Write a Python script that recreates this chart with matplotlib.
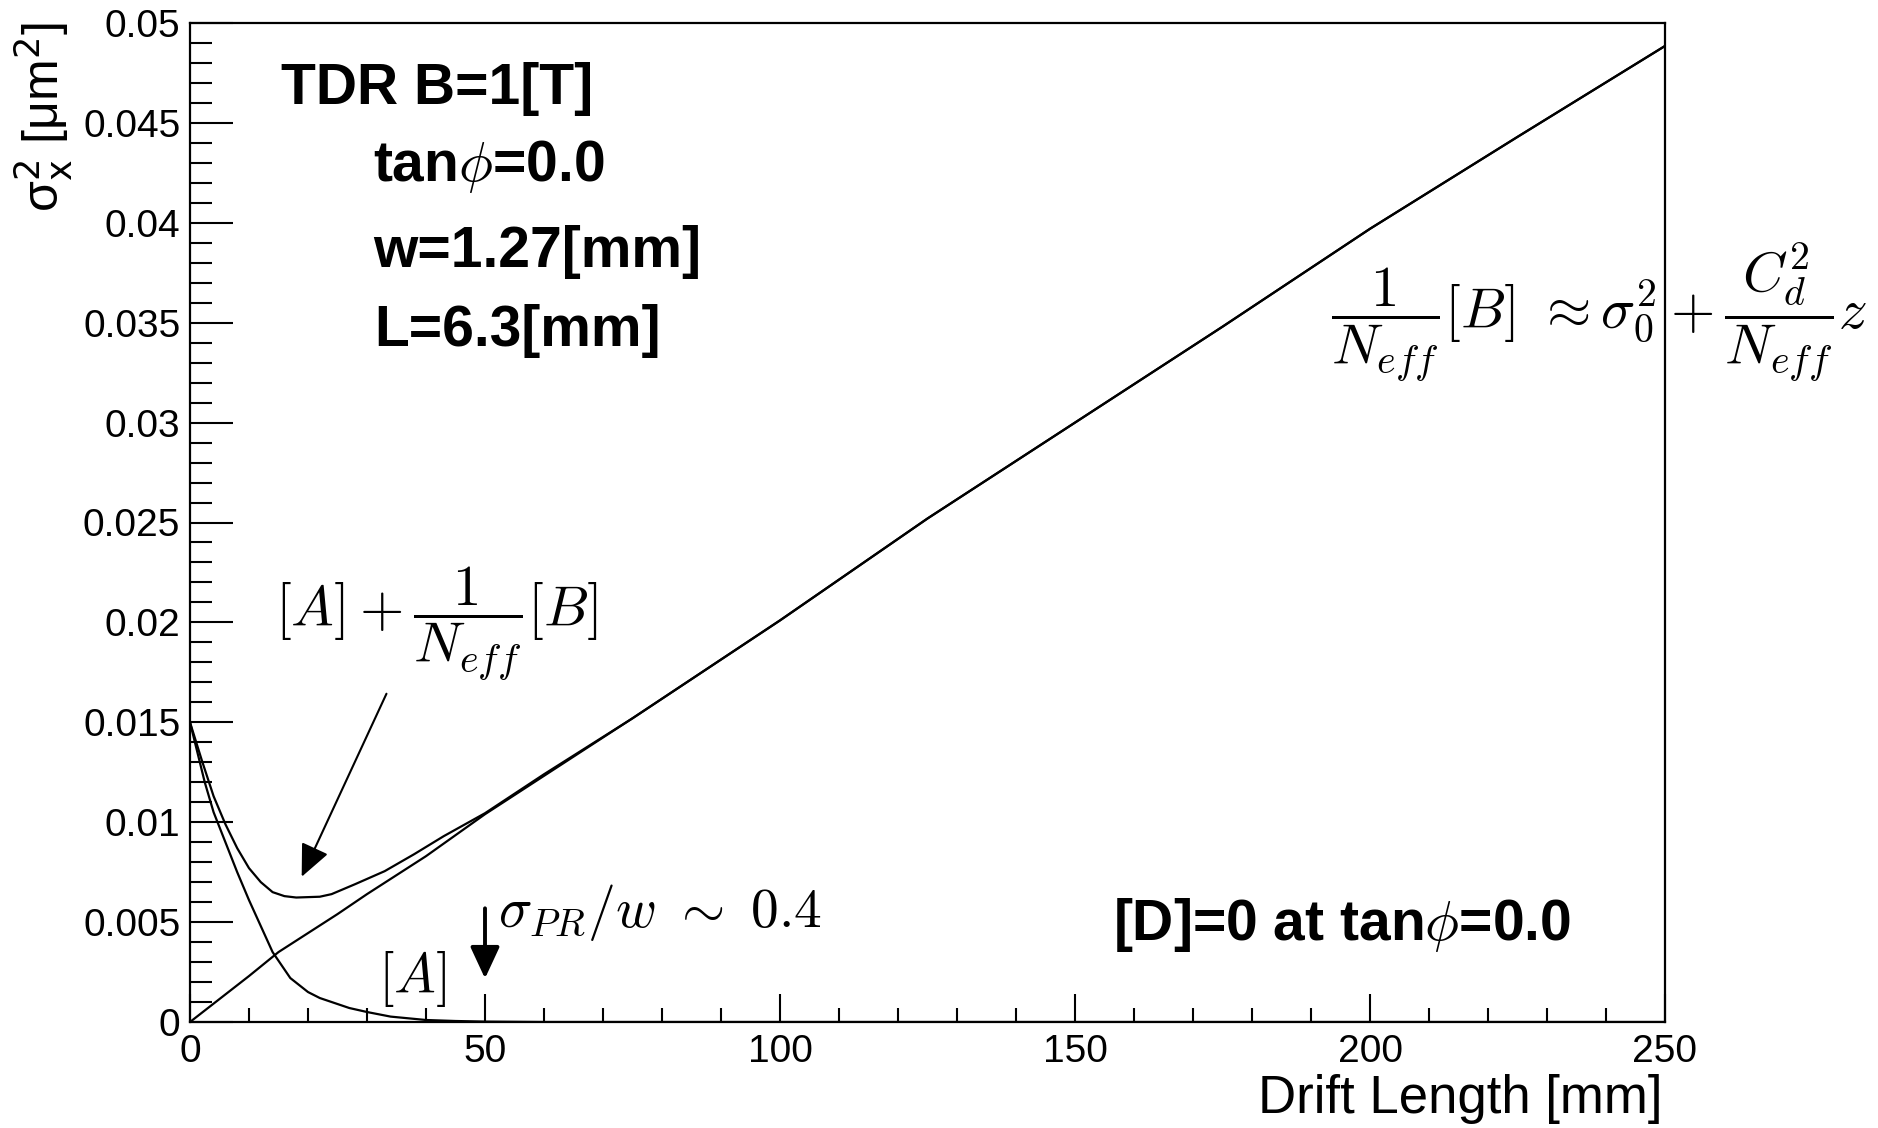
import matplotlib
matplotlib.use("Agg")
import matplotlib.pyplot as plt
from matplotlib.ticker import MultipleLocator, FuncFormatter

plt.rcParams['font.family'] = ['Liberation Sans', 'DejaVu Sans']
plt.rcParams['mathtext.fontset'] = 'cm'

# drift length [mm] and sigma_x^2 [um^2]
drift_line = [0, 5, 10, 15, 20, 25, 30, 40, 50, 75, 100, 125, 150, 175, 200, 225, 250]
sigma_line = [0, 0.00115, 0.0023, 0.0035, 0.00445, 0.0054, 0.0064, 0.0083, 0.0104,
              0.0152, 0.0201, 0.0252, 0.0300, 0.0348, 0.0397, 0.0443, 0.04885]

drift_total = [0, 2, 4, 6, 8, 10, 12, 14, 16, 18, 22, 24, 28, 33, 38, 43, 50, 60,
               75, 100, 125, 150, 175, 200, 225, 250]
sigma_total = [0.0150, 0.0131, 0.0113, 0.0099, 0.0087, 0.0077, 0.0070, 0.0065, 0.0063,
               0.00623, 0.00627, 0.0064, 0.0069, 0.00755, 0.0084, 0.0093, 0.01045, 0.0124,
               0.0152, 0.0201, 0.0252, 0.0300, 0.0348, 0.0397, 0.0443, 0.04885]

drift_a = [0, 1, 2.5, 4, 6, 8, 10, 12, 14, 17, 20, 22, 24, 27, 30, 34, 40, 45, 50, 60, 250]
sigma_a = [0.0150, 0.0138, 0.0120, 0.0105, 0.0090, 0.0075, 0.0061, 0.0048, 0.0035, 0.0022,
           0.0015, 0.0012, 0.0010, 0.0007, 0.0005, 0.00027, 0.0001, 0.00005, 0.00002, 0.0, 0.0]

info_lines = ["TDR B=1[T]", r"tan$\phi$=0.0", "w=1.27[mm]", "L=6.3[mm]"]

fig = plt.figure(figsize=(18.78, 11.28), dpi=100)
ax = fig.add_axes([190 / 1878, 1 - 1022 / 1128, 1475 / 1878, 999 / 1128])

lw = 1.6
ax.plot(drift_line, sigma_line, color='black', lw=lw)
ax.plot(drift_total, sigma_total, color='black', lw=lw)
ax.plot(drift_a, sigma_a, color='black', lw=lw)

ax.set_xlim(0, 250)
ax.set_ylim(0, 0.05)

ax.xaxis.set_major_locator(MultipleLocator(50))
ax.xaxis.set_minor_locator(MultipleLocator(10))
ax.yaxis.set_major_locator(MultipleLocator(0.005))
ax.yaxis.set_minor_locator(MultipleLocator(0.001))
ax.xaxis.set_major_formatter(FuncFormatter(lambda v, p: '%g' % v))
ax.yaxis.set_major_formatter(FuncFormatter(lambda v, p: '%g' % round(v, 4)))

ax.tick_params(which='both', direction='in', top=False, right=False, width=1.5,
               labelsize=28, colors='black')
ax.tick_params(axis='x', which='major', length=20, pad=9)
ax.tick_params(axis='x', which='minor', length=10)
ax.tick_params(axis='y', which='major', length=31, pad=7)
ax.tick_params(axis='y', which='minor', length=16)
for s in ax.spines.values():
    s.set_linewidth(1.6)

# axis titles, ROOT style (right / top aligned)
fig.text(1662 / 1878, 1 - 1113 / 1128, "Drift Length [mm]", ha='right', va='baseline',
         fontsize=38)
fig.text(44 / 1878, 1 - 22 / 1128, r"σ$_{\mathrm{x}}^{2}$ [μm$^{2}$]", rotation=90,
         ha='center', va='top', fontsize=36, math_fontfamily='dejavusans')

# info block
ys = [0.04593, 0.0421, 0.03777, 0.03385]
xs = [15.5, 31.0, 31.0, 31.3]
for t, x, y in zip(info_lines, xs, ys):
    ax.text(x, y, t, fontsize=41, fontweight='bold', ha='left', va='baseline')

ax.text(156.4, 0.0041, r"[D]=0 at tan$\phi$=0.0", fontsize=41, fontweight='bold',
        ha='left', va='baseline')

# formulas
ax.text(14.4, 0.0199, r"$[A]+\dfrac{1}{N_{eff}}[B]$", fontsize=41, ha='left', va='center')
ax.text(193.4, 0.0355, r"$\dfrac{1}{N_{eff}}[B]\ \approx\sigma_0^2+\dfrac{C_d^2}{N_{eff}}z$",
        fontsize=41, ha='left', va='center', clip_on=False)
ax.text(31.9, 0.00145, r"$[A]$", fontsize=40, ha='left', va='baseline')
ax.text(52.2, 0.00477, r"$\sigma_{PR}/w\ \sim\ 0.4$", fontsize=40, ha='left', va='baseline')

# arrows
ax.annotate('', xy=(18.93, 0.00727), xytext=(33.3, 0.01643),
            arrowprops=dict(arrowstyle='-|>,head_length=1.0,head_width=0.45',
                            mutation_scale=20, lw=1.5, color='black',
                            shrinkA=0, shrinkB=0))
ax.annotate('', xy=(50, 0.00218), xytext=(50, 0.00569),
            arrowprops=dict(arrowstyle='-|>,head_length=0.97,head_width=0.45',
                            mutation_scale=20, lw=2.8, color='black',
                            shrinkA=0, shrinkB=0))

fig.savefig("out.png", dpi=100)
